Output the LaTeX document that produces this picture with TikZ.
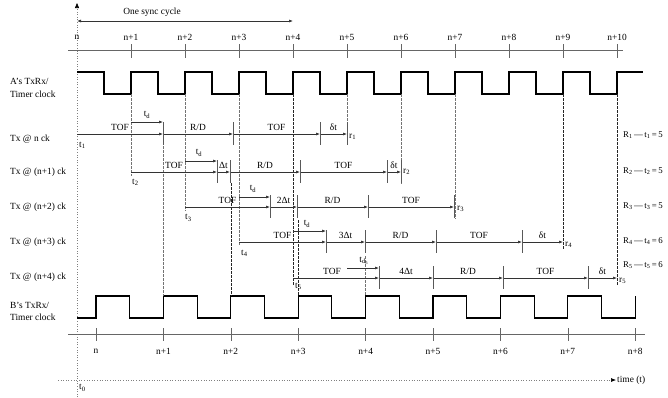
\documentclass[tikz,border=0pt]{standalone}
\usepackage{fontspec}
\setmainfont{Liberation Serif}
\usetikzlibrary{arrows.meta}
\newcommand{\tseg}[4]{\draw[seg] (#1,#3) -- (#2,#3); \node[lbl,anchor=base] (s#1r#3) at ({(#1+#2)/2},#3-4) {#4};}
\newcommand{\tbr}[2]{\draw[tbar] (#1,#2-12) -- (#1,#2+11);}
\newcommand{\sbs}[1]{\textsubscript{#1}}
\begin{document}
\begin{tikzpicture}[x=1pt,y=-1pt,
  lbl/.style={font=\fontsize{9.4}{11}\selectfont, inner sep=0pt},
  rlbl/.style={font=\fontsize{8.8}{10}\selectfont, inner sep=0pt},
  seg/.style={draw=black!80, line width=0.6pt, -{Latex[length=4pt,width=3pt]}},
  tbar/.style={draw=black!65, line width=0.9pt},
  adash/.style={draw=black!55, line width=0.6pt, dash pattern=on 2.5pt off 1.5pt},
  kdash/.style={draw=black!85, line width=0.6pt, dash pattern=on 2.5pt off 1.5pt},
  clk/.style={draw=black, line width=1.1pt},
  axisline/.style={draw=black!60, line width=0.6pt},
  dotax/.style={draw=black!50, line width=0.6pt, dotted}]
\useasboundingbox (0,0) rectangle (668,397);
% axes
\draw[dotax, -{Triangle[length=5pt,width=4pt,black]}] (77,397) -- (77,3);
\draw[dotax, -{Latex[length=5pt,width=4pt,black]}] (58,380) -- (616,380);
\node[lbl,anchor=west] (time) at (617,380) {time (t)};
\node[lbl,anchor=west] (t0) at (79,388) {t\sbs{0}};
% one sync cycle
\draw[black!80, line width=0.6pt, {Latex[length=4pt,width=3pt]}-{Latex[length=4pt,width=3pt]}] (77,21) -- (293,21);
\node[lbl] (sync) at (152,12) {One sync cycle};
% top axis
\draw[axisline] (68,50) -- (623,50);
\node[lbl] (an0) at (77,37) {n};
\foreach \k in {1,...,10} {
  \draw[axisline] ({77+54*\k},44) -- ({77+54*\k},58);
  \node[lbl] (an\k) at ({77+54*\k},37) {n+\k};
}
% A clock
\draw[clk] (77,72) foreach \k in {0,...,9} { -- ({77+54*\k+27},72) -- ({77+54*\k+27},94) -- ({77+54*(\k+1)},94) -- ({77+54*(\k+1)},72) } -- (643,72);
% B clock
\draw[clk] (77,318) -- (96,318) -- (96,296) foreach \k in {0,...,7} { -- ({96+67.4*\k+33.7},296) -- ({96+67.4*\k+33.7},318) -- ({96+67.4*(\k+1)},318) -- ({96+67.4*(\k+1)},296) };
% bottom axis
\draw[axisline] (68,334) -- (645,334);
\node[lbl] (bn0) at (96,351) {n};
\draw[axisline] (96,328) -- (96,341);
\foreach \k in {1,...,8} {
  \draw[axisline] ({96+67.4*\k},328) -- ({96+67.4*\k},341);
  \node[lbl] (bn\k) at ({96+67.4*\k},351) {n+\k};
}
% left labels
\node[lbl,anchor=west] (la1) at (10,81) {A’s TxRx/};
\node[lbl,anchor=west] (la2) at (10,94) {Timer clock};
\node[lbl,anchor=west] (lr1) at (10,139) {Tx @ n ck};
\node[lbl,anchor=west] (lr2) at (10,172) {Tx @ (n+1) ck};
\node[lbl,anchor=west] (lr3) at (10,207) {Tx @ (n+2) ck};
\node[lbl,anchor=west] (lr4) at (10,242) {Tx @ (n+3) ck};
\node[lbl,anchor=west] (lr5) at (10,277) {Tx @ (n+4) ck};
\node[lbl,anchor=west] (lb1) at (10,305) {B’s TxRx/};
\node[lbl,anchor=west] (lb2) at (10,317) {Timer clock};
% dashed from A
\draw[adash] (131,94) -- (131,176);
\draw[adash] (185,94) -- (185,211);
\draw[adash] (239,94) -- (239,246);
\draw[kdash] (293,94) -- (293,285);
\draw[adash] (347,94) -- (347,146);
\draw[adash] (401,94) -- (401,184);
\draw[adash] (455,94) -- (455,219);
\draw[kdash] (563,94) -- (563,250);
\draw[kdash] (617,94) -- (617,286);
% dashed from B
\draw[adash] (163.4,146) -- (163.4,296);
\draw[kdash] (230.8,183) -- (230.8,296);
\draw[kdash] (298.2,220) -- (298.2,296);
\draw[adash] (365.6,256) -- (365.6,296);
% Row 1
\tseg{77}{163}{134}{TOF}
\tseg{163}{233}{134}{R/D}
\tseg{233}{320}{134}{TOF}
\tseg{320}{347}{134}{δt}
\tbr{163}{134}\tbr{233}{134}\tbr{320}{134}\tbr{347}{134}
\draw[seg] (131,122) -- (163,122);
\node[lbl] (td1) at (147,115) {t\sbs{d}};
\node[lbl,anchor=west] (t1) at (79,145) {t\sbs{1}};
\node[lbl,anchor=west] (r1) at (349,137) {r\sbs{1}};
% Row 2
\tseg{131}{217}{172}{TOF}
\tseg{217}{230}{172}{Δt}
\tseg{230}{300}{172}{R/D}
\tseg{300}{387}{172}{TOF}
\tseg{387}{401}{172}{δt}
\tbr{217}{172}\tbr{230}{172}\tbr{300}{172}\tbr{387}{172}\tbr{401}{172}
\draw[seg] (185,161) -- (217,161);
\node[lbl] (td2) at (199,153) {t\sbs{d}};
\node[lbl,anchor=west] (t2) at (132,182) {t\sbs{2}};
\node[lbl,anchor=west] (r2) at (403,172) {r\sbs{2}};
% Row 3
\tseg{185}{270}{207}{TOF}
\tseg{270}{297}{207}{2Δt}
\tseg{297}{368}{207}{R/D}
\tseg{368}{454}{207}{TOF}
\tbr{270}{207}\tbr{297}{207}\tbr{368}{207}\tbr{454}{207}
\draw[seg] (239,197) -- (270,197);
\node[lbl] (td3) at (253,189) {t\sbs{d}};
\node[lbl,anchor=west] (t3) at (185,218) {t\sbs{3}};
\node[lbl,anchor=west] (r3) at (457,209) {r\sbs{3}};
% Row 4
\tseg{239}{326}{242}{TOF}
\tseg{326}{365}{242}{3Δt}
\tseg{365}{436}{242}{R/D}
\tseg{436}{522}{242}{TOF}
\tseg{522}{563}{242}{δt}
\tbr{326}{242}\tbr{365}{242}\tbr{436}{242}\tbr{522}{242}
\draw[seg] (293,231) -- (326,231);
\node[lbl] (td4) at (307,224) {t\sbs{d}};
\node[lbl,anchor=west] (t4) at (241,253) {t\sbs{4}};
\node[lbl,anchor=west] (r4) at (565,245) {r\sbs{4}};
% Row 5
\draw[seg] (293,278) -- (379,278);
\node[lbl,anchor=base] (s5tof) at (332,274) {TOF};
\tseg{379}{433}{278}{4Δt}
\tseg{433}{503}{278}{R/D}
\tseg{503}{588}{278}{TOF}
\tseg{588}{617}{278}{δt}
\tbr{379}{278}\tbr{433}{278}\tbr{503}{278}\tbr{588}{278}
\draw[seg] (347,268) -- (379,268);
\node[lbl] (td5) at (364,261) {t\sbs{d\textsubscript{5}}};
\node[lbl,anchor=west] (t5) at (295,286) {t\sbs{5}};
\node[lbl,anchor=west] (r5) at (619,281) {r\sbs{5}};
% right annotations
\node[rlbl,anchor=west] (R1) at (623,135) {R\sbs{1}\,—\,t\sbs{1}\,=\,5};
\node[rlbl,anchor=west] (R2) at (623,171) {R\sbs{2}\,—\,t\sbs{2}\,=\,5};
\node[rlbl,anchor=west] (R3) at (623,206) {R\sbs{3}\,—\,t\sbs{3}\,=\,5};
\node[rlbl,anchor=west] (R4) at (623,241) {R\sbs{4}\,—\,t\sbs{4}\,=\,6};
\node[rlbl,anchor=west] (R5) at (623,265) {R\sbs{5}\,—\,t\sbs{5}\,=\,6};
\end{tikzpicture}
\end{document}
